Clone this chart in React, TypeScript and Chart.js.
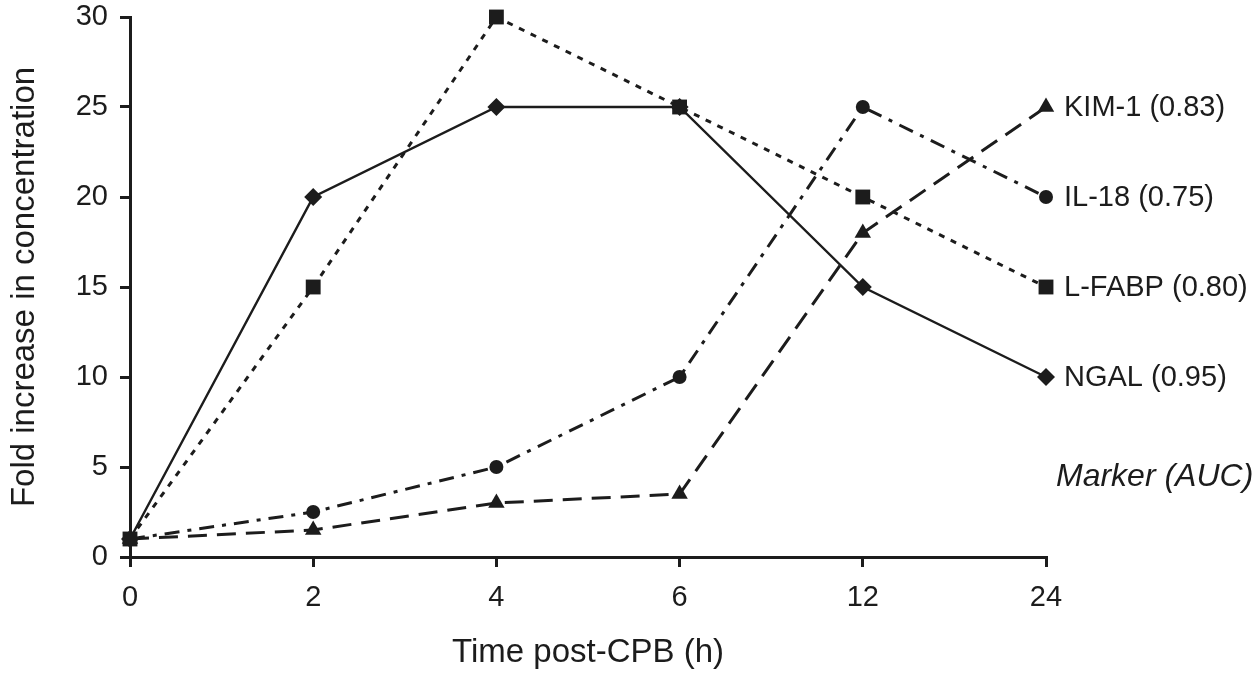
import React, { useEffect, useRef } from "react";
import { Chart, registerables } from "chart.js";

Chart.register(...registerables);

// Sampling times after cardiopulmonary bypass (h)
const hours = ["0", "2", "4", "6", "12", "24"];

// Fold increase in urinary concentration per marker
const ngal = [1, 20, 25, 25, 15, 10];
const lfabp = [1, 15, 30, 25, 20, 15];
const il18 = [1, 2.5, 5, 10, 25, 20];
const kim1 = [1, 1.5, 3, 3.5, 18, 25];

// Marker names with their AUC values
const markerLabels = ["NGAL (0.95)", "L-FABP (0.80)", "IL-18 (0.75)", "KIM-1 (0.83)"];

const INK = "#1c1c1c";
const FONT = "'Liberation Sans', Arial, Helvetica, sans-serif";

// Writes each marker's name beside its last point, plus the key caption
const endLabels = {
  id: "endLabels",
  afterDatasetsDraw(chart: any) {
    const { ctx } = chart;
    ctx.save();
    ctx.fillStyle = INK;
    ctx.textBaseline = "middle";
    ctx.textAlign = "left";
    ctx.font = `29px ${FONT}`;
    let lowest = 0;
    chart.data.datasets.forEach((ds: any, i: number) => {
      const meta = chart.getDatasetMeta(i);
      const pt = meta.data[meta.data.length - 1];
      ctx.fillText(ds.label, pt.x + 18, pt.y + 1);
      lowest = Math.max(lowest, pt.y);
    });
    ctx.font = `italic 32px ${FONT}`;
    ctx.fillText("Marker (AUC)", chart.chartArea.right + 10, lowest + 100);
    ctx.restore();
  },
};

export default function App() {
  const canvasRef = useRef<HTMLCanvasElement | null>(null);

  useEffect(() => {
    if (!canvasRef.current) return;
    const common = {
      borderColor: INK,
      backgroundColor: INK,
      pointBackgroundColor: INK,
      pointBorderColor: INK,
      pointBorderWidth: 0,
      fill: false,
      tension: 0,
      clip: false,
    };
    const chart = new Chart(canvasRef.current, {
      type: "line",
      data: {
        labels: hours,
        datasets: [
          {
            ...common,
            label: markerLabels[0],
            data: ngal,
            borderWidth: 2.4,
            pointStyle: "rectRot",
            pointRadius: 9,
          },
          {
            ...common,
            label: markerLabels[1],
            data: lfabp,
            borderWidth: 3,
            borderDash: [6, 7],
            pointStyle: "rect",
            pointRadius: 10.5,
          },
          {
            ...common,
            label: markerLabels[2],
            data: il18,
            borderWidth: 3,
            borderDash: [15, 8, 4, 8],
            pointStyle: "circle",
            pointRadius: 7,
          },
          {
            ...common,
            label: markerLabels[3],
            data: kim1,
            borderWidth: 3,
            borderDash: [19, 10],
            pointStyle: "triangle",
            pointRadius: 9.5,
          },
        ],
      },
      options: {
        animation: false,
        responsive: true,
        maintainAspectRatio: false,
        layout: { padding: { top: 17, right: 213, left: 0, bottom: 0 } },
        plugins: {
          legend: { display: false },
          tooltip: { enabled: false },
        },
        scales: {
          x: {
            type: "category",
            offset: false,
            grid: {
              display: true,
              drawOnChartArea: false,
              drawTicks: true,
              tickLength: 10,
              color: INK,
              lineWidth: 3,
            },
            border: { display: true, color: INK, width: 3 },
            ticks: {
              color: INK,
              font: { family: FONT, size: 29 },
              padding: 14,
              maxRotation: 0,
              autoSkip: false,
            },
            title: {
              display: true,
              text: "Time post-CPB (h)",
              color: INK,
              font: { family: FONT, size: 33 },
              padding: { top: 0, bottom: 0 },
            },
            afterFit: (s: any) => {
              s.height = 116;
              s.paddingLeft = 0;
              s.paddingRight = 0;
            },
          },
          y: {
            min: 0,
            max: 30,
            grid: {
              display: true,
              drawOnChartArea: false,
              drawTicks: true,
              tickLength: 10,
              color: INK,
              lineWidth: 3,
            },
            border: { display: true, color: INK, width: 3 },
            ticks: {
              stepSize: 5,
              color: INK,
              font: { family: FONT, size: 29 },
              padding: 12,
            },
            title: {
              display: true,
              text: "Fold increase in concentration",
              color: INK,
              font: { family: FONT, size: 33 },
              padding: { top: 5, bottom: 0 },
            },
            afterFit: (s: any) => {
              s.width = 130;
              s.paddingTop = 0;
              s.paddingBottom = 0;
            },
          },
        },
      },
      plugins: [endLabels],
    } as any);
    return () => chart.destroy();
  }, []);

  return (
    <div
      style={{
        position: "fixed",
        left: 0,
        top: 0,
        width: "1259px",
        height: "673px",
        background: "#ffffff",
      }}
    >
      <canvas ref={canvasRef} />
    </div>
  );
}
